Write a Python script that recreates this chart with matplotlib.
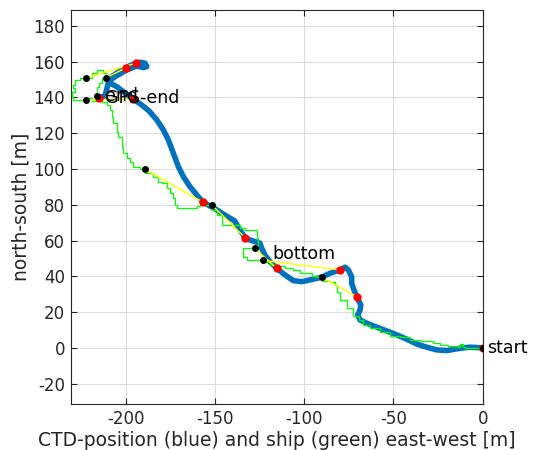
import matplotlib
matplotlib.use('Agg')
import matplotlib.pyplot as plt

# --------- data (metres) ---------
# CTD track (blue), from start to end
ctd_x = [0, -7.1, -12.7, -20.2, -25.8, -31.4, -37.0, -42.6, -48.2, -53.8, -59.4, -65.0,
         -68.7, -70.0, -68.7, -68.3, -70.6, -72.1, -73.4, -73.4, -75.3, -77.1, -79.9,
         -85.5, -90.2, -94.9, -101.4, -106.1, -110.8, -115.4, -119.2, -122.0, -123.8,
         -124.8, -127.6, -130.4, -133.2, -136.0, -139.0, -144.6, -150.3, -156.5, -160.2,
         -164.0, -167.7, -170.5, -173.3, -176.1, -178.9, -182.6, -187.0, -192.0, -196.0,
         -200.5, -205.0, -208.8, -209.7, -207.8, -205.0, -202.2, -199.7, -196.6, -194.2,
         -192.0, -189.2, -188.2, -190.1, -194.0, -200.0, -206.0, -209.5, -210.5, -211.5,
         -214.0]
ctd_y = [0, 0.4, -0.2, -1.5, -1.1, 0.4, 2.2, 4.9, 7.3, 9.5, 11.6, 13.8,
         15.6, 18.4, 21.2, 24.0, 28.7, 32.4, 36.1, 39.8, 43.6, 45.1, 43.6,
         41.7, 39.5, 38.4, 37.0, 37.6, 40.8, 44.5, 48.2, 52.0, 55.7,
         58.5, 59.4, 60.3, 61.6, 66.0, 71.0, 74.3, 78.0, 81.3, 85.5,
         90.1, 95.7, 101.3, 108.8, 116.2, 121.8, 127.4, 132.5, 136.5, 139.0,
         142.5, 146.0, 147.9, 149.7, 151.6, 153.5, 155.3, 156.6, 158.1, 159.1,
         159.6, 159.1, 157.2, 156.6, 157.5, 155.0, 151.5, 149.0, 145.0, 141.0,
         140.0]

# ship GPS track (green)
gps_x = [0, -9.9, -10.9, -12.7, -13.7, -19.3, -23.9, -27.7, -35.1, -40.7, -46.3, -51.9,
         -57.5, -63.1, -66.9, -69.1, -72.5, -76.2, -79.9, -81.8, -82.7, -85.5, -90.2,
         -93.0, -95.8, -98.6, -102.4, -106.1, -110.8, -115.4, -119.2, -123.1, -126.6,
         -132.2, -134.1, -127.8, -125.7, -126.6, -130.4, -133.0, -136.0, -141.6, -146.0,
         -149.0, -151.9, -156.5, -158.4, -160.2, -165.8, -169.6, -171.1, -172.4, -173.3,
         -175.2, -177.0, -179.8, -181.7, -184.5, -189.2, -191.9, -195.7, -197.5, -199.4,
         -201.3, -202.2, -204.1, -205.0, -206.9, -207.8, -208.8, -210.6, -213.0, -216.0,
         -219.0, -222.4, -226.6, -229.4, -230.2, -228.4, -229.4, -228.4, -225.6, -222.0,
         -219.0, -216.2, -213.4, -212.5, -210.8, -213.0, -215.0, -216.0, -216.0]
gps_y = [0, 0.7, 2.1, 0.7, 1.3, 1.7, 2.6, 4.1, 4.5, 6.0, 6.7, 9.1,
         11.0, 12.8, 15.6, 17.9, 22.2, 26.8, 31.5, 35.2, 37.0, 37.6, 39.5,
         40.2, 41.7, 42.1, 43.6, 44.5, 45.8, 46.4, 48.2, 48.9, 49.2,
         51.0, 55.7, 55.7, 61.3, 65.9, 65.9, 67.0, 68.7, 68.7, 74.0,
         77.1, 80.1, 80.8, 79.3, 78.0, 78.0, 78.0, 79.9, 83.6, 86.4,
         89.2, 92.0, 92.9, 95.4, 97.6, 99.8, 101.3, 104.1, 106.0, 108.8,
         112.5, 118.0, 120.8, 125.5, 129.2, 133.0, 135.8, 137.6, 138.5, 138.0,
         139.5, 138.5, 138.5, 140.4, 143.2, 145.1, 146.9, 149.7, 151.0, 151.0,
         153.5, 155.3, 155.3, 153.5, 151.0, 148.0, 146.0, 143.0, 140.5]

# CTD positions at the marked times (red) and ship at the same times (black)
ctd_mark_x = [0, -70.6, -79.9, -115.4, -133.2, -156.5, -196.0, -199.7, -194.2, -215.2]
ctd_mark_y = [0, 28.7, 43.6, 44.5, 61.6, 81.3, 139.0, 156.6, 159.1, 139.8]
gps_mark_x = [0, -90.2, -123.1, -127.8, -151.9, -189.2, -222.4, -210.8, -222.0, -216.0]
gps_mark_y = [0, 39.5, 48.9, 55.7, 80.1, 99.8, 138.5, 151.0, 151.0, 140.5]

# labels
lab_text = ['start', 'bottom', 'end', 'GPS-end']
lab_x = [0, -120.1, -214.0, -214.0]
lab_y = [0, 52.5, 140.6, 139.5]

XLIM = (-230.8, 0)
YLIM = (-31.5, 188.8)
GRAY = '#262626'

plt.rcParams['axes.unicode_minus'] = False

fig = plt.figure(figsize=(5.34, 4.5), dpi=100)
ax = fig.add_axes([0.1324, 0.1016, 0.7715, 0.8762])

ax.plot(ctd_x, ctd_y, '-', color='#0072BD', lw=4, solid_capstyle='round',
        solid_joinstyle='round', zorder=2)
ax.plot(gps_x, gps_y, '-', color='#00FF00', lw=0.9, drawstyle='steps-post', zorder=3)
for i in range(len(ctd_mark_x)):
    ax.plot([ctd_mark_x[i], gps_mark_x[i]], [ctd_mark_y[i], gps_mark_y[i]],
            '-', color='#FFFF00', lw=1, zorder=4)
ax.plot(ctd_mark_x, ctd_mark_y, 'o', color='red', ms=6, mew=0, zorder=5)
ax.plot(gps_mark_x, gps_mark_y, 'o', color='black', ms=5, mew=0, zorder=6)

for t, x, y in zip(lab_text, lab_x, lab_y):
    ax.annotate(t, (x, y), xytext=(3, 0), textcoords='offset points',
                ha='left', va='center', fontsize=12.5, color='black', zorder=7,
                annotation_clip=False)

ax.set_xlim(*XLIM)
ax.set_ylim(*YLIM)
ax.set_xticks([-200, -150, -100, -50, 0])
ax.set_yticks(range(-20, 181, 20))
ax.grid(True, color='#dcdcdc', lw=0.8)
ax.set_axisbelow(True)
ax.tick_params(direction='in', length=4, width=0.8, top=True, right=True,
               labelsize=12, colors=GRAY, labelcolor=GRAY, pad=4)
for s in ax.spines.values():
    s.set_color(GRAY)
    s.set_linewidth(0.8)

ax.set_xlabel('CTD-position (blue) and ship (green) east-west [m]', fontsize=13.5,
              color=GRAY, labelpad=2)
ax.set_ylabel('north-south [m]', fontsize=13.5, color=GRAY, labelpad=2)

fig.savefig('out.png', dpi=100)
